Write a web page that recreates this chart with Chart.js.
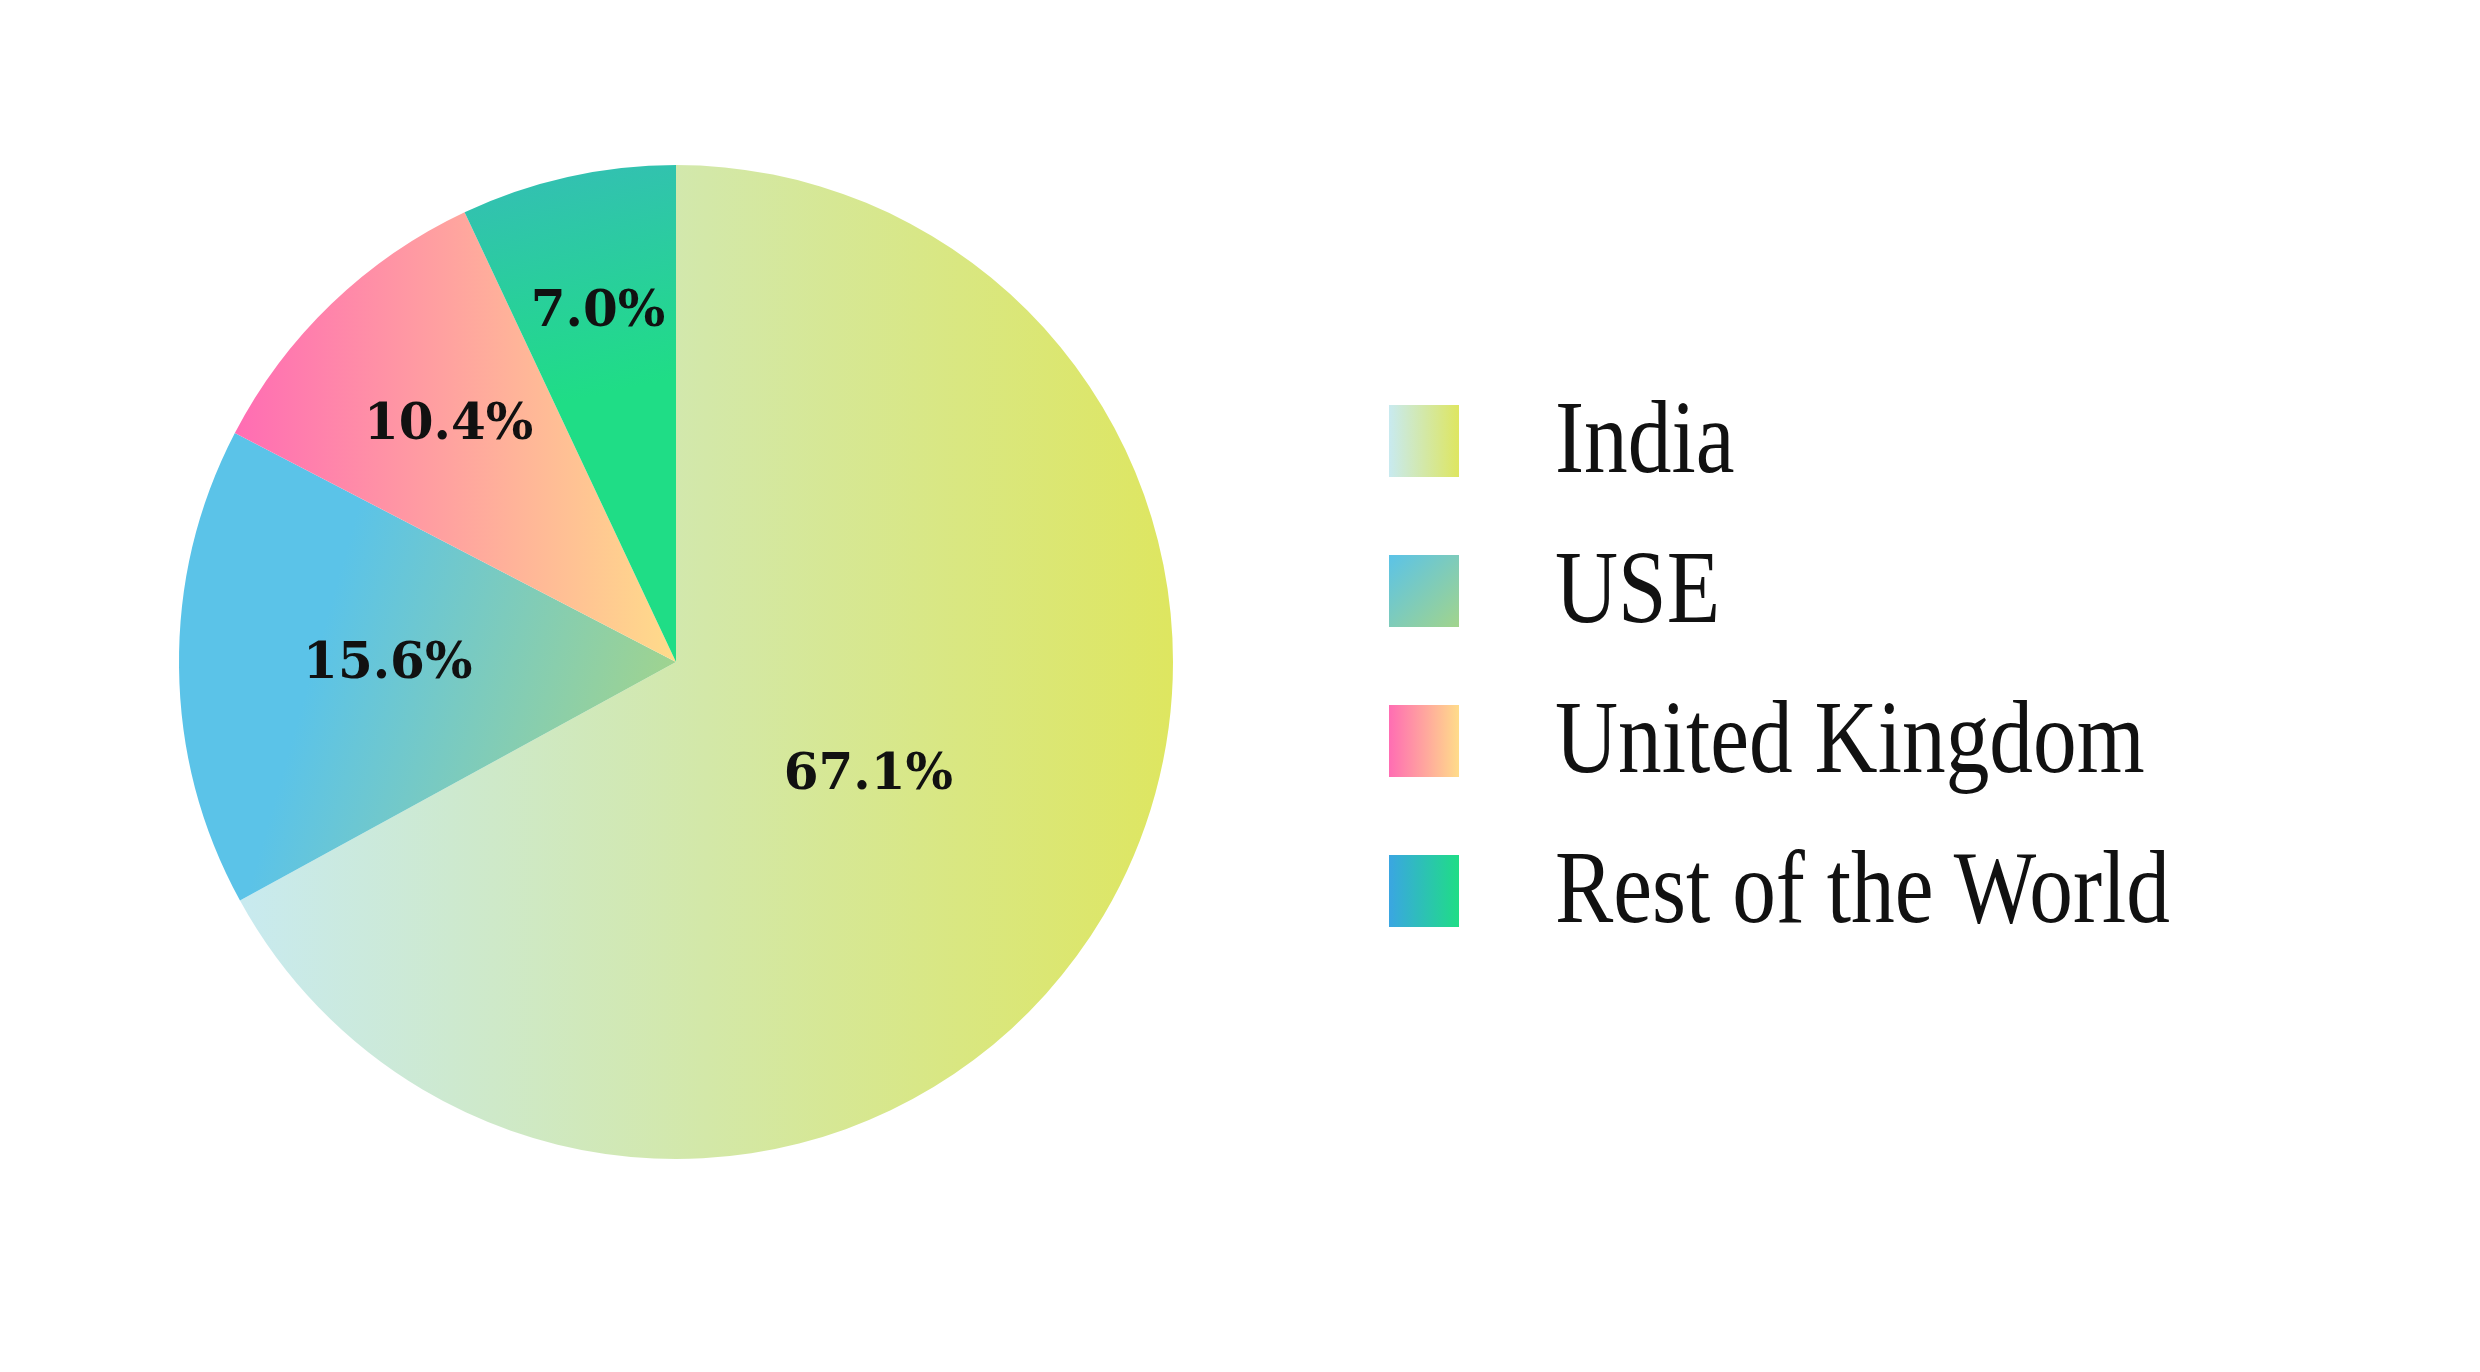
<!DOCTYPE html>
<html lang="en">
<head>
<meta charset="UTF-8">
<title>Share pie</title>
<script src="https://cdn.jsdelivr.net/npm/chart.js"></script>
<style>
    body { margin: 0; background: #fff; width: 2480px; height: 1372px; position: relative; overflow: hidden; }
    #wrap { position: absolute; left: 176px; top: 162px; width: 1000px; height: 1000px; }
    #legend { position: absolute; left: 1389px; top: 405px; font-family: "Liberation Serif", serif; }
    .row { height: 150px; position: relative; }
    .box { position: absolute; left: 0; top: 0; width: 70px; height: 72px; }
    .txt { position: absolute; left: 166px; top: -28px; font-size: 104px; white-space: nowrap;
           transform: scaleX(0.84); transform-origin: left top; color: #111; }
</style>
</head>
<body>
<div id="wrap"><canvas id="pie"></canvas></div>
<div id="legend"></div>
<script>
    const categories = ['India', 'USE', 'United Kingdom', 'Rest of the World'];
    const shares = [67.1, 15.6, 10.4, 7.0];
    const gradStops = [['#c8eaf0', '#dee660'], ['#5bc3e8', '#a2d48c'], ['#ff6db3', '#ffdc8a'], ['#3aa6e2', '#1fdd86']];
    const labelDist = [0.45, 0.58, 0.66, 0.72];

    // legend in html with css gradients
    let leg = document.getElementById('legend');
    categories.forEach((c, i) => {
        let r = document.createElement('div');
        r.className = 'row';
        r.innerHTML = '<div class="box" style="background:linear-gradient(' + (i == 1 ? '135deg' : '90deg') + ',' +
            gradStops[i][0] + ',' + gradStops[i][1] + ')"></div><div class="txt">' + c + '</div>';
        leg.appendChild(r);
    });

    function sliceFill(ctx) {
        let chart = ctx.chart, a = chart.chartArea;
        if (!a) return gradStops[ctx.dataIndex][0];
        let cx = (a.left + a.right) / 2, cy = (a.top + a.bottom) / 2;
        let r = Math.min(a.right - a.left, a.bottom - a.top) / 2;
        let g;
        let i = ctx.dataIndex;
        if (i == 0) g = chart.ctx.createLinearGradient(cx - r * 0.88, 0, cx + r, 0);
        else if (i == 1) g = chart.ctx.createLinearGradient(cx - r * 0.7, cy - r * 0.1, cx, cy + r * 0.1);
        else if (i == 2) g = chart.ctx.createLinearGradient(cx - r * 0.88, 0, cx, 0);
        else g = chart.ctx.createLinearGradient(cx - r * 0.2, cy - r, cx, cy - r * 0.4);
        g.addColorStop(0, gradStops[i][0]);
        g.addColorStop(1, gradStops[i][1]);
        if (i == 3) { g = chart.ctx.createLinearGradient(cx - r * 0.2, cy - r, cx - r * 0.1, cy - r * 0.55); g.addColorStop(0, '#33c0b2'); g.addColorStop(1, '#1fdd86'); }
        return g;
    }

    const pctLabels = {
        id: 'pctLabels',
        afterDatasetsDraw(chart) {
            let c = chart.ctx;
            let meta = chart.getDatasetMeta(0);
            c.save();
            c.font = 'bold 50px "DejaVu Serif", serif';
            c.fillStyle = '#111';
            c.textAlign = 'center';
            c.textBaseline = 'middle';
            meta.data.forEach((arc, i) => {
                let p = arc.getProps(['startAngle', 'endAngle', 'outerRadius', 'x', 'y'], true);
                let mid = (p.startAngle + p.endAngle) / 2;
                let rr = p.outerRadius * labelDist[i];
                c.fillText(shares[i].toFixed(1) + '%', p.x + Math.cos(mid) * rr, p.y + Math.sin(mid) * rr);
            });
            c.restore();
        }
    };

    new Chart(document.getElementById('pie'), {
        type: 'pie',
        data: {
            labels: categories,
            datasets: [{ data: shares, backgroundColor: sliceFill, borderWidth: 0 }]
        },
        options: {
            responsive: true,
            maintainAspectRatio: false,
            animation: false,
            layout: { padding: 3 },
            plugins: { legend: { display: false }, tooltip: { enabled: false } }
        },
        plugins: [pctLabels]
    });
</script>
</body>
</html>
